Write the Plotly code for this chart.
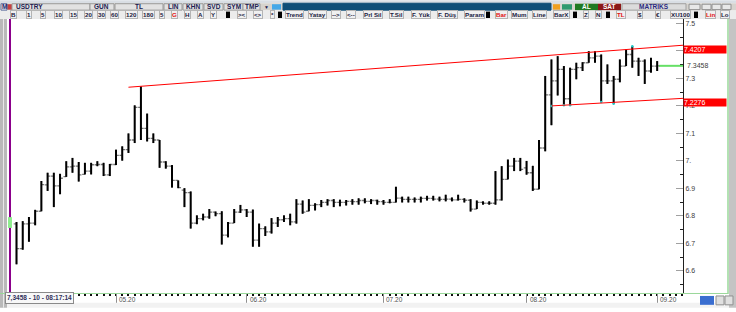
import plotly.graph_objects as go
import pandas as pd

# ---------------- data ----------------
symbol = "USDTRY"
dates = [d.strftime("%Y-%m-%d") for d in pd.bdate_range("2020-04-09", "2020-09-01")]

opens = [6.771, 6.681, 6.771, 6.774, 6.817, 6.913, 6.945, 6.909, 6.943, 6.978,
         6.981, 6.951, 6.963, 6.986, 6.987, 6.949, 6.987, 7.020, 7.041, 7.076,
         7.195, 7.118, 7.082, 7.076, 6.996, 6.981, 6.929, 6.894, 6.885, 6.774,
         6.790, 6.796, 6.814, 6.808, 6.730, 6.774, 6.814, 6.822, 6.814, 6.712,
         6.754, 6.742, 6.774, 6.786, 6.790, 6.778, 6.843, 6.817, 6.838, 6.841,
         6.849, 6.856, 6.849, 6.849, 6.853, 6.852, 6.856, 6.853, 6.856, 6.852,
         6.849, 6.849, 6.865, 6.860, 6.860, 6.860, 6.864, 6.864, 6.861, 6.860,
         6.861, 6.858, 6.860, 6.857, 6.825, 6.849, 6.846, 6.846, 6.858, 6.933,
         6.981, 6.999, 6.975, 6.957, 6.897, 7.047, 7.240, 7.291, 7.333, 7.226,
         7.333, 7.339, 7.357, 7.375, 7.381, 7.291, 7.291, 7.297, 7.345, 7.387,
         7.363, 7.363, 7.327, 7.345]
highs = [6.778, 6.781, 6.796, 6.822, 6.927, 6.957, 6.957, 6.953, 6.999, 7.011,
         6.996, 6.993, 6.993, 6.999, 6.993, 6.989, 7.041, 7.053, 7.100, 7.202,
         7.271, 7.172, 7.100, 7.076, 6.999, 6.985, 6.929, 6.901, 6.889, 6.802,
         6.808, 6.825, 6.816, 6.817, 6.778, 6.825, 6.840, 6.825, 6.823, 6.772,
         6.762, 6.792, 6.796, 6.802, 6.808, 6.861, 6.856, 6.861, 6.846, 6.858,
         6.861, 6.861, 6.859, 6.858, 6.861, 6.864, 6.864, 6.861, 6.859, 6.858,
         6.861, 6.906, 6.870, 6.870, 6.867, 6.870, 6.873, 6.873, 6.870, 6.877,
         6.867, 6.877, 6.864, 6.861, 6.856, 6.853, 6.853, 6.963, 6.981, 7.005,
         7.011, 7.011, 7.000, 6.982, 7.076, 7.309, 7.369, 7.381, 7.345, 7.339,
         7.357, 7.359, 7.399, 7.399, 7.387, 7.351, 7.309, 7.369, 7.405, 7.417,
         7.375, 7.369, 7.375, 7.363]
lows = [6.624, 6.677, 6.706, 6.766, 6.817, 6.891, 6.832, 6.879, 6.942, 6.957,
        6.925, 6.951, 6.951, 6.981, 6.945, 6.945, 6.985, 7.001, 7.029, 7.065,
        7.076, 7.071, 7.065, 6.975, 6.972, 6.903, 6.901, 6.832, 6.754, 6.770,
        6.784, 6.790, 6.799, 6.696, 6.722, 6.774, 6.811, 6.796, 6.688, 6.688,
        6.727, 6.736, 6.760, 6.778, 6.766, 6.772, 6.808, 6.817, 6.820, 6.832,
        6.838, 6.832, 6.835, 6.838, 6.841, 6.841, 6.846, 6.843, 6.841, 6.841,
        6.846, 6.849, 6.849, 6.849, 6.849, 6.849, 6.856, 6.856, 6.853, 6.853,
        6.853, 6.856, 6.849, 6.816, 6.825, 6.841, 6.841, 6.841, 6.856, 6.933,
        6.963, 6.963, 6.950, 6.891, 6.897, 7.035, 7.130, 7.238, 7.202, 7.202,
        7.297, 7.327, 7.357, 7.357, 7.214, 7.280, 7.208, 7.286, 7.345, 7.339,
        7.309, 7.280, 7.321, 7.327]
closes = [6.681, 6.771, 6.774, 6.817, 6.914, 6.945, 6.909, 6.937, 6.978, 6.981,
          6.949, 6.963, 6.986, 6.987, 6.949, 6.987, 7.020, 7.041, 7.076, 7.195,
          7.118, 7.082, 7.076, 6.996, 6.981, 6.929, 6.903, 6.885, 6.774, 6.790,
          6.796, 6.814, 6.808, 6.730, 6.774, 6.814, 6.822, 6.814, 6.712, 6.754,
          6.742, 6.774, 6.786, 6.790, 6.778, 6.843, 6.814, 6.838, 6.841, 6.849,
          6.856, 6.849, 6.849, 6.853, 6.852, 6.856, 6.853, 6.856, 6.852, 6.849,
          6.849, 6.865, 6.860, 6.860, 6.860, 6.864, 6.864, 6.861, 6.860, 6.861,
          6.858, 6.860, 6.857, 6.825, 6.849, 6.846, 6.846, 6.858, 6.933, 6.981,
          6.999, 6.969, 6.957, 6.897, 7.047, 7.240, 7.291, 7.333, 7.226, 7.333,
          7.339, 7.357, 7.375, 7.381, 7.291, 7.291, 7.297, 7.345, 7.387, 7.363,
          7.363, 7.327, 7.345, 7.3458]

month_starts = ["2020-05-01", "2020-06-01", "2020-07-01", "2020-08-03", "2020-09-01"]
month_labels = ["05.20", "06.20", "07.20", "08.20", "09.20"]

y_ticks = [6.6, 6.7, 6.8, 6.9, 7.0, 7.1, 7.2, 7.3, 7.4, 7.5]
y_tick_labels = ["6.6", "6.7", "6.8", "6.9", "7.", "7.1", "7.2", "7.3", "", "7.5"]
y_minor = [6.55, 6.65, 6.75, 6.85, 6.95, 7.05, 7.15, 7.25, 7.35, 7.45]

upper_start_date, upper_start_val, upper_end_val = "2020-05-05", 7.268, 7.4207
lower_start_date, lower_start_val, lower_end_val = "2020-08-07", 7.200, 7.2276
anchor_dates = ["2020-08-07", "2020-08-11", "2020-08-12", "2020-08-19", "2020-08-21", "2020-08-26"]
anchor_vals = [7.200, 7.202, 7.202, 7.214, 7.208, 7.417]

last_price = 7.3458
status_text = "7,3458 - 10 - 08:17:14"

# ---------------- geometry ----------------
W, H = 736, 312
ML, MR, MT, MB = 10, 53, 19, 15
PW, PH = W - ML - MR, H - MT - MB
X_RANGE = [-1.045, 107.15]
Y_RANGE = [6.5197, 7.5161]


def fx(px):
    return (px - ML) / PW


def fy(py):
    return (H - MB - py) / PH


idx = list(range(len(dates)))
pos = {d: i for i, d in enumerate(dates)}

fig = go.Figure()

# grey open/close ticks
fig.add_trace(go.Ohlc(
    x=idx, open=opens, high=highs, low=lows, close=closes,
    increasing=dict(line=dict(color="#7a7a7a", width=1.3)),
    decreasing=dict(line=dict(color="#7a7a7a", width=1.3)),
    tickwidth=0.45, customdata=dates, hoverinfo="skip", showlegend=False))
# black high-low verticals
fig.add_trace(go.Ohlc(
    x=idx, open=opens, high=highs, low=lows, close=closes,
    increasing=dict(line=dict(color="#000000", width=2)),
    decreasing=dict(line=dict(color="#000000", width=2)),
    tickwidth=0, customdata=dates, showlegend=False, name=symbol))

fig.add_trace(go.Scatter(
    x=[pos[d] for d in anchor_dates], y=anchor_vals, mode="markers",
    marker=dict(size=2.5, color="#20c8c8"), hoverinfo="skip", showlegend=False))

shapes = []
# trend lines
shapes.append(dict(type="line", xref="x", yref="y", x0=pos[upper_start_date], y0=upper_start_val,
                   x1=X_RANGE[1], y1=upper_end_val, line=dict(color="#ff0000", width=1)))
shapes.append(dict(type="line", xref="x", yref="y", x0=pos[lower_start_date], y0=lower_start_val,
                   x1=X_RANGE[1], y1=lower_end_val, line=dict(color="#ff0000", width=1)))
# last price line
shapes.append(dict(type="line", xref="x", yref="y", x0=idx[-1] + 0.3, y0=last_price,
                   x1=X_RANGE[1], y1=last_price, line=dict(color="#66e066", width=2)))


def prect(x0, y0, x1, y1, fill, line=None, lw=0):
    shapes.append(dict(type="rect", xref="paper", yref="paper",
                       x0=fx(x0), x1=fx(x1), y0=fy(y1), y1=fy(y0),
                       fillcolor=fill, line=dict(color=line or fill, width=lw), layer="above"))


def pline(x0, y0, x1, y1, color, width=1):
    shapes.append(dict(type="line", xref="paper", yref="paper",
                       x0=fx(x0), x1=fx(x1), y0=fy(y0), y1=fy(y1),
                       line=dict(color=color, width=width), layer="above"))


# window frame pieces
prect(0, 0, 736, 3, "#d9dee4")
prect(0, 3, 736, 10.5, "#d6d3ce")
prect(0, 10.5, 736, 19, "#ececec")
prect(0, 19, 7, 312, "#b9b9b9")
pline(3.5, 19, 3.5, 312, "#e8e8e8", 1)
pline(10, 19, 10, 297, "#8b008b", 2)
prect(8, 220, 12, 231, "#90ee90")
pline(0, 297.5, 728, 297.5, "#9ad89a", 1)
pline(728, 19, 728, 298, "#9ad89a", 1.5)
prect(729, 19, 736, 312, "#c4c4c4")
prect(7, 307, 729, 312, "#f2f2f2")

# toolbar row 1
prect(283, 3, 551, 10, "#0f4e78", "#0f4e78", 1)
prect(1, 3.5, 7, 10, "#e6e6f0", "#6070a0", 1)
prect(7.5, 4, 12, 9.5, "#c84040")
row1_boxes = [(12, 90), (90, 114), (115, 163), (164, 182), (183, 203), (204, 223), (224, 243), (243, 260)]
for a, b in row1_boxes:
    prect(a, 3.5, b, 10, "#e2e2e2", "#9a9a9a", 1)
prect(272, 4, 281, 9.5, "#45a8e8")
prect(553, 4, 560, 9.5, "#f0a020")
prect(562, 4, 572, 9.5, "#2f9a70")
prect(575, 3.5, 598, 10, "#1f7a22")
prect(598, 3.5, 621, 10, "#8b1818")
prect(622, 3.5, 686, 10, "#dcdcdc", "#a0a0a0", 1)
for a, b in [(689, 700), (702, 711), (712, 721), (722, 731)]:
    prect(a, 4, b, 9.5, "#e8e8e8", "#909090", 1)

# bottom right icons
prect(700, 300, 714, 309, "#3a6ed0")
prect(716, 300, 724, 309, "#e0e0e0", "#909090", 1)
prect(725, 300, 733, 309, "#e0e0e0", "#909090", 1)

ann = []
TB_FONT = "Liberation Sans"


def ptext(px, py, text, color="#202050", size=6.5, anchor="center", bold=True, **kw):
    t = f"<b>{text}</b>" if bold else text
    ann.append(dict(xref="paper", yref="paper", x=fx(px), y=fy(py), text=t, showarrow=False,
                    xanchor=anchor, yanchor="middle", font=dict(family=TB_FONT, size=size, color=color), **kw))


# row 1 labels
ptext(4, 6.8, "M", color="#1c2a6c", size=6.5)
ptext(14, 6.8, symbol, anchor="left")
for t, x in [("GUN", 102), ("TL", 139), ("LIN", 173), ("KHN", 193), ("SVD", 213.5), ("SYM", 233.5), ("TMP", 251.5)]:
    ptext(x, 6.8, t)
ptext(266, 6.8, "▼", size=5)
ptext(586.5, 6.8, "AL", color="#ffffff")
ptext(609.5, 6.8, "SAT", color="#ffffff")
ptext(654, 6.8, "MATRIKS", color="#2a2a80")

# row 2 buttons
row2 = [("B", 13), ("1", 29), ("5", 43), ("10", 58), ("15", 73), ("20", 88), ("30", 101), ("60", 114),
        ("120", 131), ("180", 148), ("5", 162), ("G", 174), ("H", 187), ("A", 200), ("Y", 213),
        ("><", 242), ("<>", 258), ("*", 272), ("Trend", 294), ("Yatay", 317), ("-->", 336), ("<--", 351),
        ("Prl Sil", 373), ("T.Sil", 397), ("F. Yük", 421), ("F. Düş", 447), ("Param", 474),
        ("Bar", 501), ("Mum", 519), ("Line", 539), ("BarX", 561), ("Z", 586), ("N", 598),
        ("TL", 621), ("$", 640), ("€", 658), ("XU100", 680), ("Lin", 710), ("Lo", 725)]
red_items = {"G", "Bar", "TL", "Lin"}
for t, x in row2:
    ptext(x, 14.8, t, color="#e01010" if t in red_items else "#202040", size=6.2,
          bgcolor="#f0f0f0", bordercolor="#b4b4b4", borderwidth=1, borderpad=0)
for x in [228, 280, 488, 575, 608, 696]:
    prect(x - 2, 11.5, x + 2, 18, "#000000")

# status box bottom left
ptext(5, 302.5, status_text, color="#30305a", size=6.5, anchor="left",
      bgcolor="#f8f8f8", bordercolor="#8a8a8a", borderwidth=1, borderpad=1)

# month labels
for d, lab in zip(month_starts, month_labels):
    ann.append(dict(xref="x", yref="paper", x=pos[d], y=fy(303.5), text=lab, showarrow=False,
                    xanchor="left", yanchor="middle", xshift=1,
                    font=dict(family="Liberation Sans", size=6.5, color="#505050")))

# right side price labels
for val in [upper_end_val, lower_end_val]:
    ann.append(dict(xref="paper", yref="y", x=1, y=val, text=f"{val:.4f}", showarrow=False,
                    xanchor="left", yanchor="top", xshift=0, width=42, height=7, align="left",
                    bgcolor="#ff0000", borderpad=0,
                    font=dict(family="Liberation Sans", size=7, color="#ffffff")))
ann.append(dict(xref="paper", yref="y", x=1, y=last_price, text=f"{last_price:.4f}", showarrow=False,
                xanchor="left", yanchor="middle", xshift=2,
                font=dict(family="Liberation Sans", size=7, color="#404040")))

fig.update_layout(
    width=W, height=H,
    margin=dict(l=ML, r=MR, t=MT, b=MB, pad=0),
    paper_bgcolor="#ffffff", plot_bgcolor="#ffffff",
    shapes=shapes, annotations=ann,
    showlegend=False,
    xaxis=dict(range=X_RANGE, rangeslider=dict(visible=False), showgrid=False, zeroline=False,
               showline=True, linecolor="#9ad89a", linewidth=1,
               tickmode="array", tickvals=[pos[d] for d in month_starts], showticklabels=False,
               ticks="outside", ticklen=9, tickcolor="#909090", tickwidth=1,
               minor=dict(tickmode="linear", tick0=0, dtick=1, ticks="outside", ticklen=2,
                          tickwidth=2, tickcolor="#101010")),
    yaxis=dict(range=Y_RANGE, side="right", showgrid=False, zeroline=False,
               showline=True, linecolor="#202020", linewidth=1,
               tickmode="array", tickvals=y_ticks, ticktext=y_tick_labels,
               ticks="inside", ticklen=7, tickcolor="#a0a0a0", tickwidth=1,
               tickfont=dict(family="Liberation Sans", size=7, color="#404040"),
               minor=dict(tickmode="array", tickvals=y_minor, ticks="inside", ticklen=3,
                          tickwidth=1, tickcolor="#202020")),
)

fig.write_html("out.html")
